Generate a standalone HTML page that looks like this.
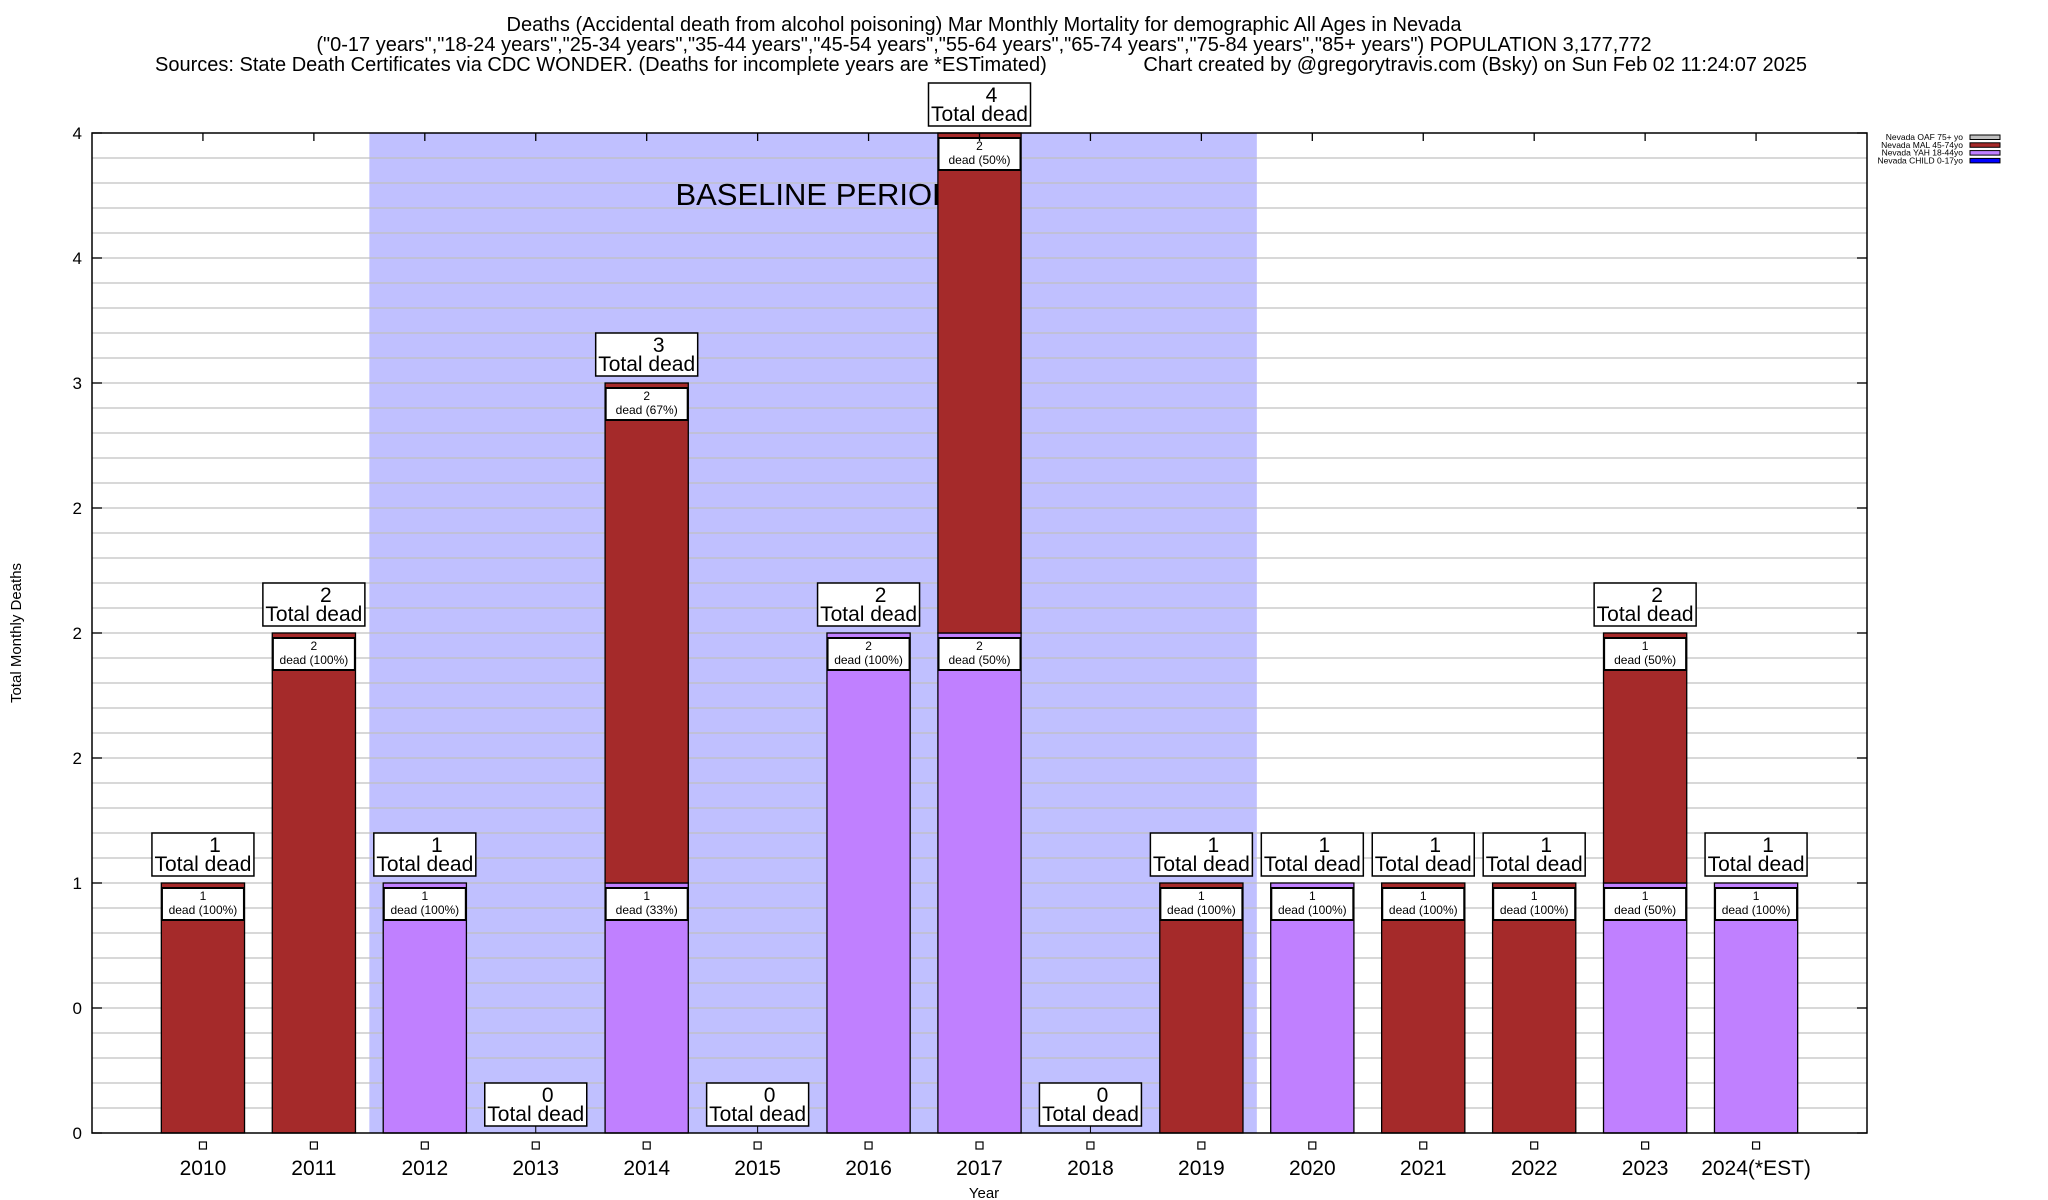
<!DOCTYPE html>
<html><head><meta charset="utf-8"><style>
html,body{margin:0;padding:0;background:#fff;}
svg{display:block;font-family:"Liberation Sans",Arial,sans-serif;}
</style></head><body>
<svg id="chart" width="2048" height="1200" viewBox="0 0 2048 1200" xmlns="http://www.w3.org/2000/svg">
<g font-size="20" fill="#000">
<text x="984" y="31" text-anchor="middle">Deaths (Accidental death from alcohol poisoning) Mar Monthly Mortality for demographic All Ages in Nevada</text>
<text x="984" y="51" text-anchor="middle">("0-17 years","18-24 years","25-34 years","35-44 years","45-54 years","55-64 years","65-74 years","75-84 years","85+ years") POPULATION 3,177,772</text>
<text x="155" y="71" text-anchor="start">Sources: State Death Certificates via CDC WONDER. (Deaths for incomplete years are *ESTimated)</text>
<text x="1807" y="71" text-anchor="end">Chart created by @gregorytravis.com (Bsky) on Sun Feb 02 11:24:07 2025</text>
</g>
<g id="plot"></g>
</svg>
<script>
const categories = ["2010","2011","2012","2013","2014","2015","2016","2017","2018","2019","2020","2021","2022","2023","2024(*EST)"];
const yahValues = [0,0,1,0,1,0,2,2,0,0,1,0,0,1,1];
const malValues = [1,2,0,0,2,0,0,2,0,1,0,1,1,1,0];
const childValues = [0,0,0,0,0,0,0,0,0,0,0,0,0,0,0];
const oafValues = [0,0,0,0,0,0,0,0,0,0,0,0,0,0,0];
const yTickValues = [0,0.5,1,1.5,2,2.5,3,3.5,4];
const yTickLabels = ["0","0","1","2","2","2","3","4","4"];
const baselineRange = [1.5, 9.5];

const NS = "http://www.w3.org/2000/svg";
const L = 92, R = 1867, T = 133, B = 1133, YMAX = 4;
const step = (R - L) / (categories.length + 1);
function xPos(i){ return L + (i + 1) * step; }
function yPos(v){ return B - (B - T) * v / YMAX; }
const plot = document.getElementById('plot');
function mk(tag, attrs, parent){
  const e = document.createElementNS(NS, tag);
  for (const k in attrs) e.setAttribute(k, attrs[k]);
  (parent || plot).appendChild(e);
  return e;
}

const sh = mk('rect', {x: xPos(baselineRange[0]), y: T, width: xPos(baselineRange[1]) - xPos(baselineRange[0]), height: B - T, fill: '#c0c0ff'});



for (let k = 1; k < 40; k++) {
  const y = yPos(k / 10);
  const g = mk('line', {x1: L, x2: R, y1: y, y2: y, stroke: '#c0c0c0', 'stroke-width': 1.3});
  
  
}

const bl = mk('text', {x: 815, y: 205, 'font-size': 31, 'text-anchor': 'middle', fill: '#000'});
bl.textContent = 'BASELINE PERIOD';



yTickValues.forEach((v, i) => {
  const y = yPos(v);
  const t = mk('text', {x: 82, y: y + 6, 'font-size': 17, 'text-anchor': 'end', fill: '#000'});
  t.textContent = yTickLabels[i];
  
  
  const tk = mk('line', {x1: L, x2: L + 10, y1: y, y2: y, stroke: '#000', 'stroke-width': 1.3});
  
  
  const tk2 = mk('line', {x1: R - 10, x2: R, y1: y, y2: y, stroke: '#000', 'stroke-width': 1.3});
  
  
});

const bw = step * 0.75;
categories.forEach((c, i) => {
  const cx = xPos(i);
  const segs = [[yahValues[i], '#c080ff'], [malValues[i], '#a52a2a']];
  const total = yahValues[i] + malValues[i] + childValues[i] + oafValues[i];
  let base = 0;
  segs.forEach(([v, col]) => {
    if (v <= 0) return;
    const r = mk('rect', {x: cx - bw / 2, y: yPos(base + v), width: bw, height: yPos(base) - yPos(base + v), fill: col, stroke: '#000', 'stroke-width': 1.3});
    
    
    base += v;
  });
  base = 0;
  segs.forEach(([v]) => {
    if (v <= 0) return;
    const top = yPos(base + v);
    const bx = mk('rect', {x: cx - 41, y: top + 5, width: 82, height: 32, fill: '#fff', stroke: '#000', 'stroke-width': 2});
    
    
    const t1 = mk('text', {x: cx, y: top + 17, 'font-size': 12, 'text-anchor': 'middle'});
    t1.textContent = String(v);
    
    
    const t2 = mk('text', {x: cx, y: top + 31, 'font-size': 12, 'text-anchor': 'middle'});
    t2.textContent = 'dead (' + Math.round(100 * v / total) + '%)';
    
    
    base += v;
  });
  const ty = yPos(total);
  if (total === 0) {
    const ln = mk('line', {x1: cx, x2: cx, y1: ty - 7, y2: B, stroke: '#000', 'stroke-width': 1});
    
    
  }
  const tb = mk('rect', {x: cx - 51, y: ty - 50, width: 102, height: 43, fill: '#fff', stroke: '#000', 'stroke-width': 1.5});
  
  
  const n = mk('text', {x: cx + 12, y: ty - 31, 'font-size': 21, 'text-anchor': 'middle'});
  n.textContent = String(total);
  
  
  const td = mk('text', {x: cx, y: ty - 12, 'font-size': 21, 'text-anchor': 'middle'});
  td.textContent = 'Total dead';
  
  
  const tt = mk('line', {x1: cx, x2: cx, y1: T, y2: T + 8, stroke: '#000', 'stroke-width': 1.3});
  
  
  const sq = mk('rect', {x: cx - 3.5, y: 1142, width: 7, height: 7, fill: '#fff', stroke: '#000', 'stroke-width': 1.2});
  
  
  const xl = mk('text', {x: cx, y: 1175, 'font-size': 21, 'text-anchor': 'middle'});
  xl.textContent = c;
  
  
});

const frame = mk('rect', {x: L, y: T, width: R - L, height: B - T, fill: 'none', stroke: '#000', 'stroke-width': 1.5});



const xt = mk('text', {x: 984, y: 1198, 'font-size': 15, 'text-anchor': 'middle'});
xt.textContent = 'Year';


const yt = mk('text', {x: 0, y: 0, 'font-size': 15, 'text-anchor': 'middle', transform: 'translate(21,633) rotate(-90)'});
yt.textContent = 'Total Monthly Deaths';



const legendNames = ['Nevada OAF 75+ yo', 'Nevada MAL 45-74yo', 'Nevada YAH 18-44yo', 'Nevada CHILD 0-17yo'];
const legendColors = ['#c0c0c0', '#a52a2a', '#c080ff', '#0000ff'];
legendNames.forEach((nm, i) => {
  const y = 137 + i * 7.8;
  const t = mk('text', {x: 1963, y: y + 3, 'font-size': 8.5, 'text-anchor': 'end'});
  t.textContent = nm;
  
  
  const s = mk('rect', {x: 1970, y: y - 2, width: 30, height: 4.5, fill: legendColors[i], stroke: '#000', 'stroke-width': 1});
  
  
});
</script>
</body></html>
